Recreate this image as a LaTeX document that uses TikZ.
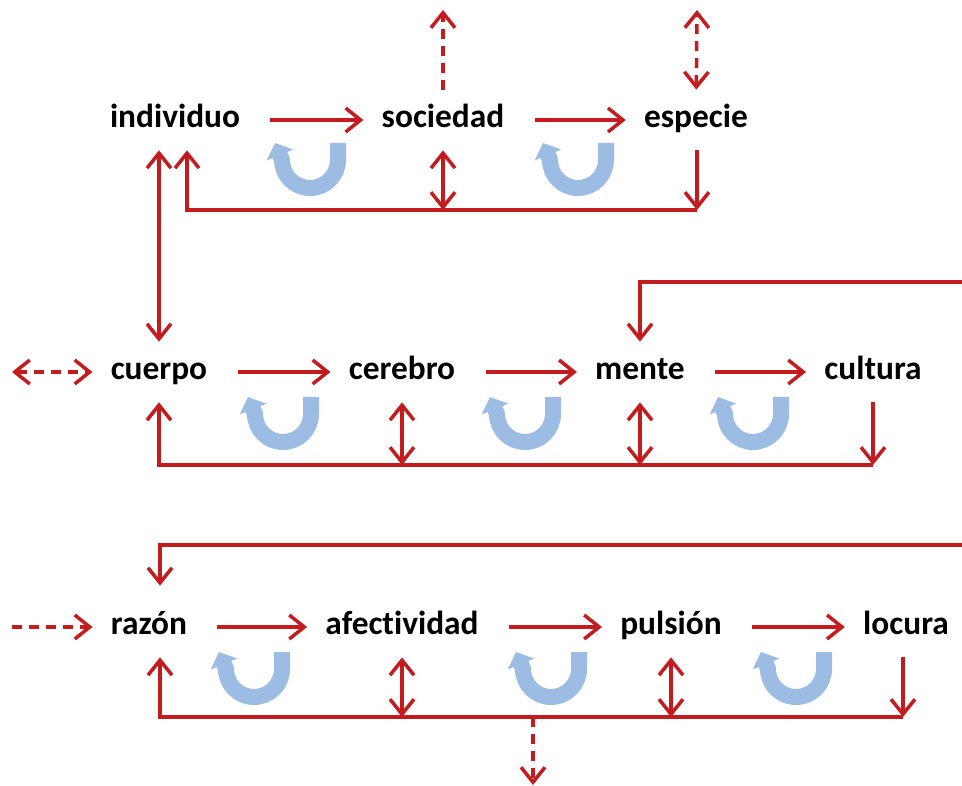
\documentclass[tikz,border=0pt]{standalone}
\usepackage{fontspec}
\setmainfont{Carlito}[Ligatures=NoCommon]
\usetikzlibrary{arrows.meta, calc}
\definecolor{darkred}{RGB}{196,28,30}
\definecolor{lightblue}{RGB}{157,188,228}

\begin{document}
\begin{tikzpicture}[x=0.02cm, y=-0.02cm,
	>={Straight Barb[length=0.3cm, width=0.48cm]},
	word/.style={font=\bfseries\fontsize{19}{22}\selectfont, text height=0.9em, text depth=0pt, minimum height=1.2cm, inner ysep=0pt, inner xsep=0.36cm},
	wire/.style={draw=darkred, line width=0.07cm},
	dashwire/.style={wire, dash pattern=on 0.2cm off 0.14cm},
	cyc/.style={draw=lightblue, line width=0.32cm, -{Triangle[length=0.26cm, width=0.56cm]}}]
			\useasboundingbox (0,0) rectangle (962,786);

			% words
			\node (ind) [word] at (175,120) {individuo};
			\node (soc) [word] at (443,120) {sociedad};
			\node (esp) [word] at (696,120) {especie};
			\node (cue) [word] at (159,372) {cuerpo};
			\node (cer) [word] at (402,372) {cerebro};
			\node (men) [word] at (640,372) {mente};
			\node (cul) [word] at (873,372) {cultura};
			\node (raz) [word] at (149,627) {razón};
			\node (afe) [word] at (402,627) {afectividad};
			\node (pul) [word] at (671,627) {pulsión};
			\node (loc) [word] at (906,627) {locura};

			\coordinate (b1l) at (187,210);
			\coordinate (b1r) at (697,210);
			\coordinate (b2l) at (159,465);
			\coordinate (b2r) at (873,465);
			\coordinate (b3l) at (160,717);
			\coordinate (b3r) at (903,717);
			\coordinate (up1) at (443,10);
			\coordinate (up2) at (697,10);
			\coordinate (in2) at (962,282);
			\coordinate (in3) at (962,545);
			\coordinate (out2) at (12,372);
			\coordinate (in3l) at (12,627);
			\coordinate (out3) at (533,785);

			% first row
			\draw [wire, ->, shorten <=0.24cm] (ind) -- (soc);
			\draw [wire, ->, shorten <=0.24cm] (soc) -- (esp);
			\draw [dashwire, ->] (soc) -- (up1);
			\draw [dashwire, <->] (esp) -- (up2);
			\draw [wire, <->] (soc) -- (soc |- b1r);
			\draw [wire, ->] (b1r |- esp.south) -- (b1r);
			\draw [wire, ->] (b1r) -- (b1l) -- (b1l |- ind.south);
			\draw [wire, <->] (cue.north |- ind.south) -- (cue);

			% second row
			\draw [dashwire, <->] (out2) -- (cue);
			\draw [wire, ->, shorten <=0.24cm] (cue) -- (cer);
			\draw [wire, ->, shorten <=0.24cm] (cer) -- (men);
			\draw [wire, ->, shorten <=0.24cm] (men) -- (cul);
			\draw [wire, ->] (in2) -- (in2 -| men) -- (men);
			\draw [wire, <->] (cer) -- (cer |- b2l);
			\draw [wire, <->] (men) -- (men |- b2l);
			\draw [wire, ->] (cul) -- (b2r);
			\draw [wire, ->] (b2r) -- (b2l) -- (cue);

			% third row
			\draw [dashwire, ->] (in3l) -- (raz);
			\draw [wire, ->, shorten <=0.24cm] (raz) -- (afe);
			\draw [wire, ->, shorten <=0.24cm] (afe) -- (pul);
			\draw [wire, ->, shorten <=0.24cm] (pul) -- (loc);
			\draw [wire, ->, shorten >=0.22cm] (in3) -- (in3 -| b3l) -- (b3l |- raz.north);
			\draw [wire, <->] (afe) -- (afe |- b3l);
			\draw [wire, <->] (pul) -- (pul |- b3l);
			\draw [wire, ->] (b3r |- loc.south) -- (b3r);
			\draw [wire, ->] (b3r) -- (b3l) -- (b3l |- raz.south);
			\draw [dashwire, ->] (out3 |- b3l) -- (out3);

			% cycles
			\draw [cyc] (338,143) -- (338,160) arc (0:180:28) -- (275,143);
			\draw [cyc] (606,143) -- (606,160) arc (0:180:28) -- (543,143);
			\draw [cyc] (311,397) -- (311,414) arc (0:180:28) -- (248,397);
			\draw [cyc] (553,397) -- (553,414) arc (0:180:28) -- (490,397);
			\draw [cyc] (781,397) -- (781,414) arc (0:180:28) -- (718,397);
			\draw [cyc] (282,652) -- (282,669) arc (0:180:28) -- (219,652);
			\draw [cyc] (579,652) -- (579,669) arc (0:180:28) -- (516,652);
			\draw [cyc] (824,652) -- (824,669) arc (0:180:28) -- (761,652);
		\end{tikzpicture}
\end{document}
